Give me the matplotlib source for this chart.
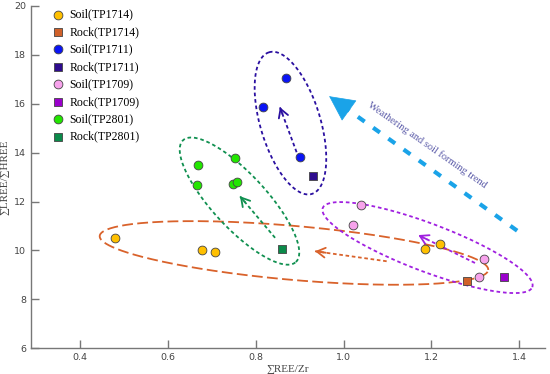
import matplotlib.pyplot as plt
import numpy as np

serif = ['Liberation Serif', 'DejaVu Serif']

# --- data ---
soil_1714_x = [0.480, 0.677, 0.707, 1.186, 1.219]
soil_1714_y = [10.50, 10.01, 9.94, 10.05, 10.26]
rock_1714_x = [1.280]
rock_1714_y = [8.75]

soil_1711_x = [0.869, 0.816, 0.900]
soil_1711_y = [17.06, 15.88, 13.83]
rock_1711_x = [0.930]
rock_1711_y = [13.05]

soil_1709_x = [1.039, 1.021, 1.320, 1.308]
soil_1709_y = [11.88, 11.06, 9.64, 8.93]
rock_1709_x = [1.365]
rock_1709_y = [8.93]

soil_2801_x = [0.752, 0.748, 0.757, 0.669, 0.666]
soil_2801_y = [13.79, 12.72, 12.79, 13.51, 12.69]
rock_2801_x = [0.860]
rock_2801_y = [10.05]

series = [
    ("Soil(TP1714)", soil_1714_x, soil_1714_y, "o", "#FFC000"),
    ("Rock(TP1714)", rock_1714_x, rock_1714_y, "s", "#D0612A"),
    ("Soil(TP1711)", soil_1711_x, soil_1711_y, "o", "#0A14F5"),
    ("Rock(TP1711)", rock_1711_x, rock_1711_y, "s", "#2E0C8E"),
    ("Soil(TP1709)", soil_1709_x, soil_1709_y, "o", "#F7A3EC"),
    ("Rock(TP1709)", rock_1709_x, rock_1709_y, "s", "#9A00CC"),
    ("Soil(TP2801)", soil_2801_x, soil_2801_y, "o", "#22E600"),
    ("Rock(TP2801)", rock_2801_x, rock_2801_y, "s", "#0B8A4A"),
]

# group ellipses: centre (data), half axes (px), angle (deg on screen)
ell_centres = [(0.887, 9.90), (1.191, 10.12), (0.879, 15.21), (0.763, 12.02)]
ell_axes = [(195, 27), (112, 24), (74, 30), (83, 27)]
ell_angles = [-5.0, -20.7, 106.8, -47.2]
ell_colors = ["#D9622B", "#A020E0", "#2A0FA0", "#109050"]
ell_dash = [(6, 2.4), (2, 1.6), (2, 1.6), (2, 1.6)]

# small evolution arrows (tail -> head)
arr_tails = [(1.098, 9.56), (1.299, 9.49), (0.893, 14.02), (0.844, 10.52)]
arr_heads = [(0.935, 9.97), (1.170, 10.63), (0.855, 15.86), (0.764, 12.22)]

trend_tail = (1.395, 10.81)
trend_head = (0.967, 16.31)

fig = plt.figure(figsize=(5.5, 3.74), dpi=100)
ax = fig.add_axes([0.0564, 0.0687, 0.9346, 0.9153])
ax.set_xlim(0.2885, 1.4585)
ax.set_ylim(6, 20)
ax.set_xticks([0.4, 0.6, 0.8, 1.0, 1.2, 1.4])
ax.set_yticks([6, 8, 10, 12, 14, 16, 18, 20])

for s in ["top", "right"]:
    ax.spines[s].set_visible(False)
for s in ["left", "bottom"]:
    ax.spines[s].set_color("#777777")
    ax.spines[s].set_linewidth(1.0)
ax.tick_params(direction="in", length=5.5, width=1.0, color="#777777",
               labelsize=6.8, labelcolor="#444444")

ax.set_xlabel("∑REE/Zr", family=serif, fontsize=8, color="#444444", labelpad=2)
ax.set_ylabel("∑LREE/∑HREE", family=serif, fontsize=8, color="#444444", labelpad=3)

# pixels per data unit
p0 = ax.transData.transform((0, 0))
p1 = ax.transData.transform((1, 1))
sx, sy = p1[0] - p0[0], p1[1] - p0[1]

t = np.linspace(0, 2 * np.pi, 400)
for (cx, cy), (a, b), ang, col, dsh in zip(ell_centres, ell_axes, ell_angles, ell_colors, ell_dash):
    th = np.radians(ang)
    dx = a * np.cos(t) * np.cos(th) - b * np.sin(t) * np.sin(th)
    dy = a * np.cos(t) * np.sin(th) + b * np.sin(t) * np.cos(th)
    ax.plot(cx + dx / sx, cy + dy / sy, color=col, lw=1.3, linestyle=(0, dsh), zorder=2)

for (tx, ty), (hx, hy), col in zip(arr_tails, arr_heads, ell_colors):
    ax.plot([tx, hx], [ty, hy], color=col, lw=1.3, linestyle=(0, (2, 1.5)), zorder=2)
    bx = hx + (tx - hx) * 0.15
    by = hy + (ty - hy) * 0.15
    ax.annotate("", xy=(hx, hy), xytext=(bx, by),
                arrowprops=dict(arrowstyle="->,head_length=0.6,head_width=0.35",
                                color=col, lw=1.3, shrinkA=0, shrinkB=0), zorder=2)

# big weathering trend arrow
f = 0.06
ax.plot([trend_tail[0], trend_head[0] + (trend_tail[0] - trend_head[0]) * f],
        [trend_tail[1], trend_head[1] + (trend_tail[1] - trend_head[1]) * f],
        color="#1AA3E8", lw=3, linestyle=(0, (2, 2.5)), zorder=2)
ax.annotate("", xy=trend_head,
            xytext=(trend_head[0] + (trend_tail[0] - trend_head[0]) * 0.1,
                    trend_head[1] + (trend_tail[1] - trend_head[1]) * 0.1),
            arrowprops=dict(arrowstyle="-|>,head_length=1.7,head_width=0.85",
                            mutation_scale=10, color="#1AA3E8", lw=0.5,
                            shrinkA=0, shrinkB=0), zorder=2)
ax.text(1.191, 14.30, "Weathering and soil forming trend", family=serif,
        fontsize=7.5, color="#5A5AA8", rotation=-35, ha="center", va="center",
        rotation_mode="anchor")

for label, xs, ys, mk, col in series:
    ax.scatter(xs, ys, marker=mk, s=40 if mk == "o" else 36, c=col,
               edgecolors="#444444", linewidths=0.6, label=label, zorder=3)

ax.legend(loc="upper left", bbox_to_anchor=(0.031, 1.006), frameon=False,
          prop={"family": serif, "size": 8.5}, handlelength=1.0,
          handletextpad=0.5, labelspacing=0.46, borderaxespad=0)

fig.savefig("out.png", dpi=100)
